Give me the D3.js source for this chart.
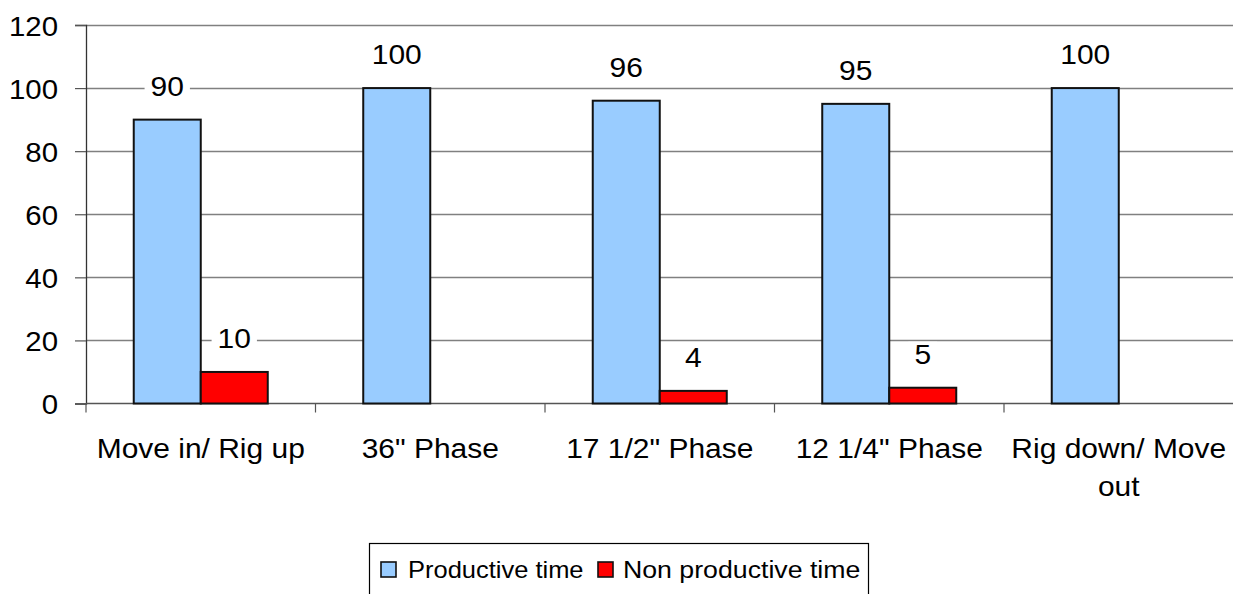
<!DOCTYPE html>
<html><head><meta charset="utf-8">
<script src="https://cdn.jsdelivr.net/npm/d3@7"></script>
<style>body{margin:0;background:#fff;} svg{display:block;font-family:"Liberation Sans",Arial,sans-serif;}</style>
</head><body>
<svg id="chart" width="1233" height="594"></svg>
<script>
const categories = ["Move in/ Rig up", "36\" Phase", "17 1/2\" Phase", "12 1/4\" Phase", "Rig down/ Move out"];
const seriesNames = ["Productive time", "Non productive time"];
const productive = [90, 100, 96, 95, 100];
const nonProductive = [10, 0, 4, 5, 0];
const yTicks = [0, 20, 40, 60, 80, 100, 120];
const colors = ["#99CCFF", "#FF0000"];

const svg = d3.select("#chart");
const L = 86, R = 1233, T = 25, B = 403.5;
const FS = 27.5, SX = 1.09;
const y = d3.scaleLinear().domain([0, 120]).range([B, T]);
const x0 = d3.scaleBand().domain(categories).range([L, R + 0.5]).padding(0);
const x1 = d3.scaleBand().domain(seriesNames).range([0, x0.bandwidth()]).paddingInner(0).paddingOuter(0.7125);

function stext(parent, x, yy, str, opts = {}) {
  return parent.append("text")
    .attr("transform", `translate(${x},${yy}) scale(${opts.sx || SX},1)`)
    .attr("text-anchor", opts.anchor || "middle")
    .attr("font-size", opts.fs || FS).attr("fill", "#000").text(str);
}

// gridlines
svg.append("g").selectAll("line").data(yTicks.filter(d => d > 0)).join("line")
  .attr("x1", L).attr("x2", R).attr("y1", d => Math.round(y(d)) + 0.5).attr("y2", d => Math.round(y(d)) + 0.5)
  .attr("stroke", "#808080").attr("stroke-width", 1.3);

// y axis
const yAxis = d3.axisLeft(y).tickValues(yTicks).tickSize(11).tickFormat("");
const gy = svg.append("g").attr("transform", `translate(${L},0)`).call(yAxis);
gy.select(".domain").attr("stroke", "#333").attr("stroke-width", 1.3);
gy.selectAll(".tick line").attr("stroke", "#555").attr("stroke-width", 1.2);
gy.selectAll(".tick").each(function(d) {
  stext(d3.select(this), -28, 10, d, {anchor: "end", sx: 1.07});
});

// x axis
const gx = svg.append("g").attr("transform", `translate(0,${B})`);
gx.append("line").attr("x1", L).attr("x2", R).attr("y1", 0).attr("y2", 0).attr("stroke", "#555").attr("stroke-width", 1.3);
gx.selectAll("line.tk").data(categories).join("line").attr("class", "tk")
  .attr("x1", d => x0(d)).attr("x2", d => x0(d)).attr("y1", 0).attr("y2", 9).attr("stroke", "#555").attr("stroke-width", 1.2);

// category labels with wrapping
const catLines = {"Rig down/ Move out": ["Rig down/ Move", "out"]};
categories.forEach(c => {
  const lines = catLines[c] || [c];
  lines.forEach((ln, i) => stext(svg, x0(c) + x0.bandwidth() / 2, 457.5 + i * 38.5, ln));
});

// bars
const data = categories.map((c, i) => ({cat: c, vals: [productive[i], nonProductive[i]]}));
const groups = svg.append("g").selectAll("g").data(data).join("g").attr("transform", d => `translate(${x0(d.cat)},0)`);
groups.selectAll("rect").data(d => d.vals.map((v, j) => ({v, s: seriesNames[j], j})).filter(e => e.v > 0)).join("rect")
  .attr("x", e => x1(e.s)).attr("width", x1.bandwidth())
  .attr("y", e => y(e.v)).attr("height", e => y(0) - y(e.v))
  .attr("fill", e => colors[e.j]).attr("stroke", "#111").attr("stroke-width", 2);

// value labels
groups.each(function(d) {
  const g = d3.select(this);
  d.vals.forEach((v, j) => {
    if (v <= 0) return;
    const cx = x1(seriesNames[j]) + x1.bandwidth() / 2;
    const ty = y(v) - 24;
    const t = stext(g, cx, ty, v);
    const bb = t.node().getBBox();
    const w = bb.width * SX + 12;
    g.insert("rect", "text").attr("class", "bg").attr("x", cx - w / 2).attr("y", ty - 22).attr("width", w).attr("height", 24).attr("fill", "#fff");
  });
});
groups.selectAll("text").raise();

// legend
const lg = svg.append("g");
lg.append("rect").attr("x", 369.5).attr("y", 543.5).attr("width", 499).attr("height", 60).attr("fill", "#fff").attr("stroke", "#000").attr("stroke-width", 1.2);
const legItems = [{x: 381, tx: 408, sx: 1.04}, {x: 598, tx: 623, sx: 1.09}];
seriesNames.forEach((s, i) => {
  lg.append("rect").attr("x", legItems[i].x).attr("y", 562).attr("width", 15).attr("height", 15)
    .attr("fill", colors[i]).attr("stroke", "#111").attr("stroke-width", 1.6);
  stext(lg, legItems[i].tx, 578, s, {anchor: "start", fs: 24.5, sx: legItems[i].sx});
});
</script>
</body></html>
